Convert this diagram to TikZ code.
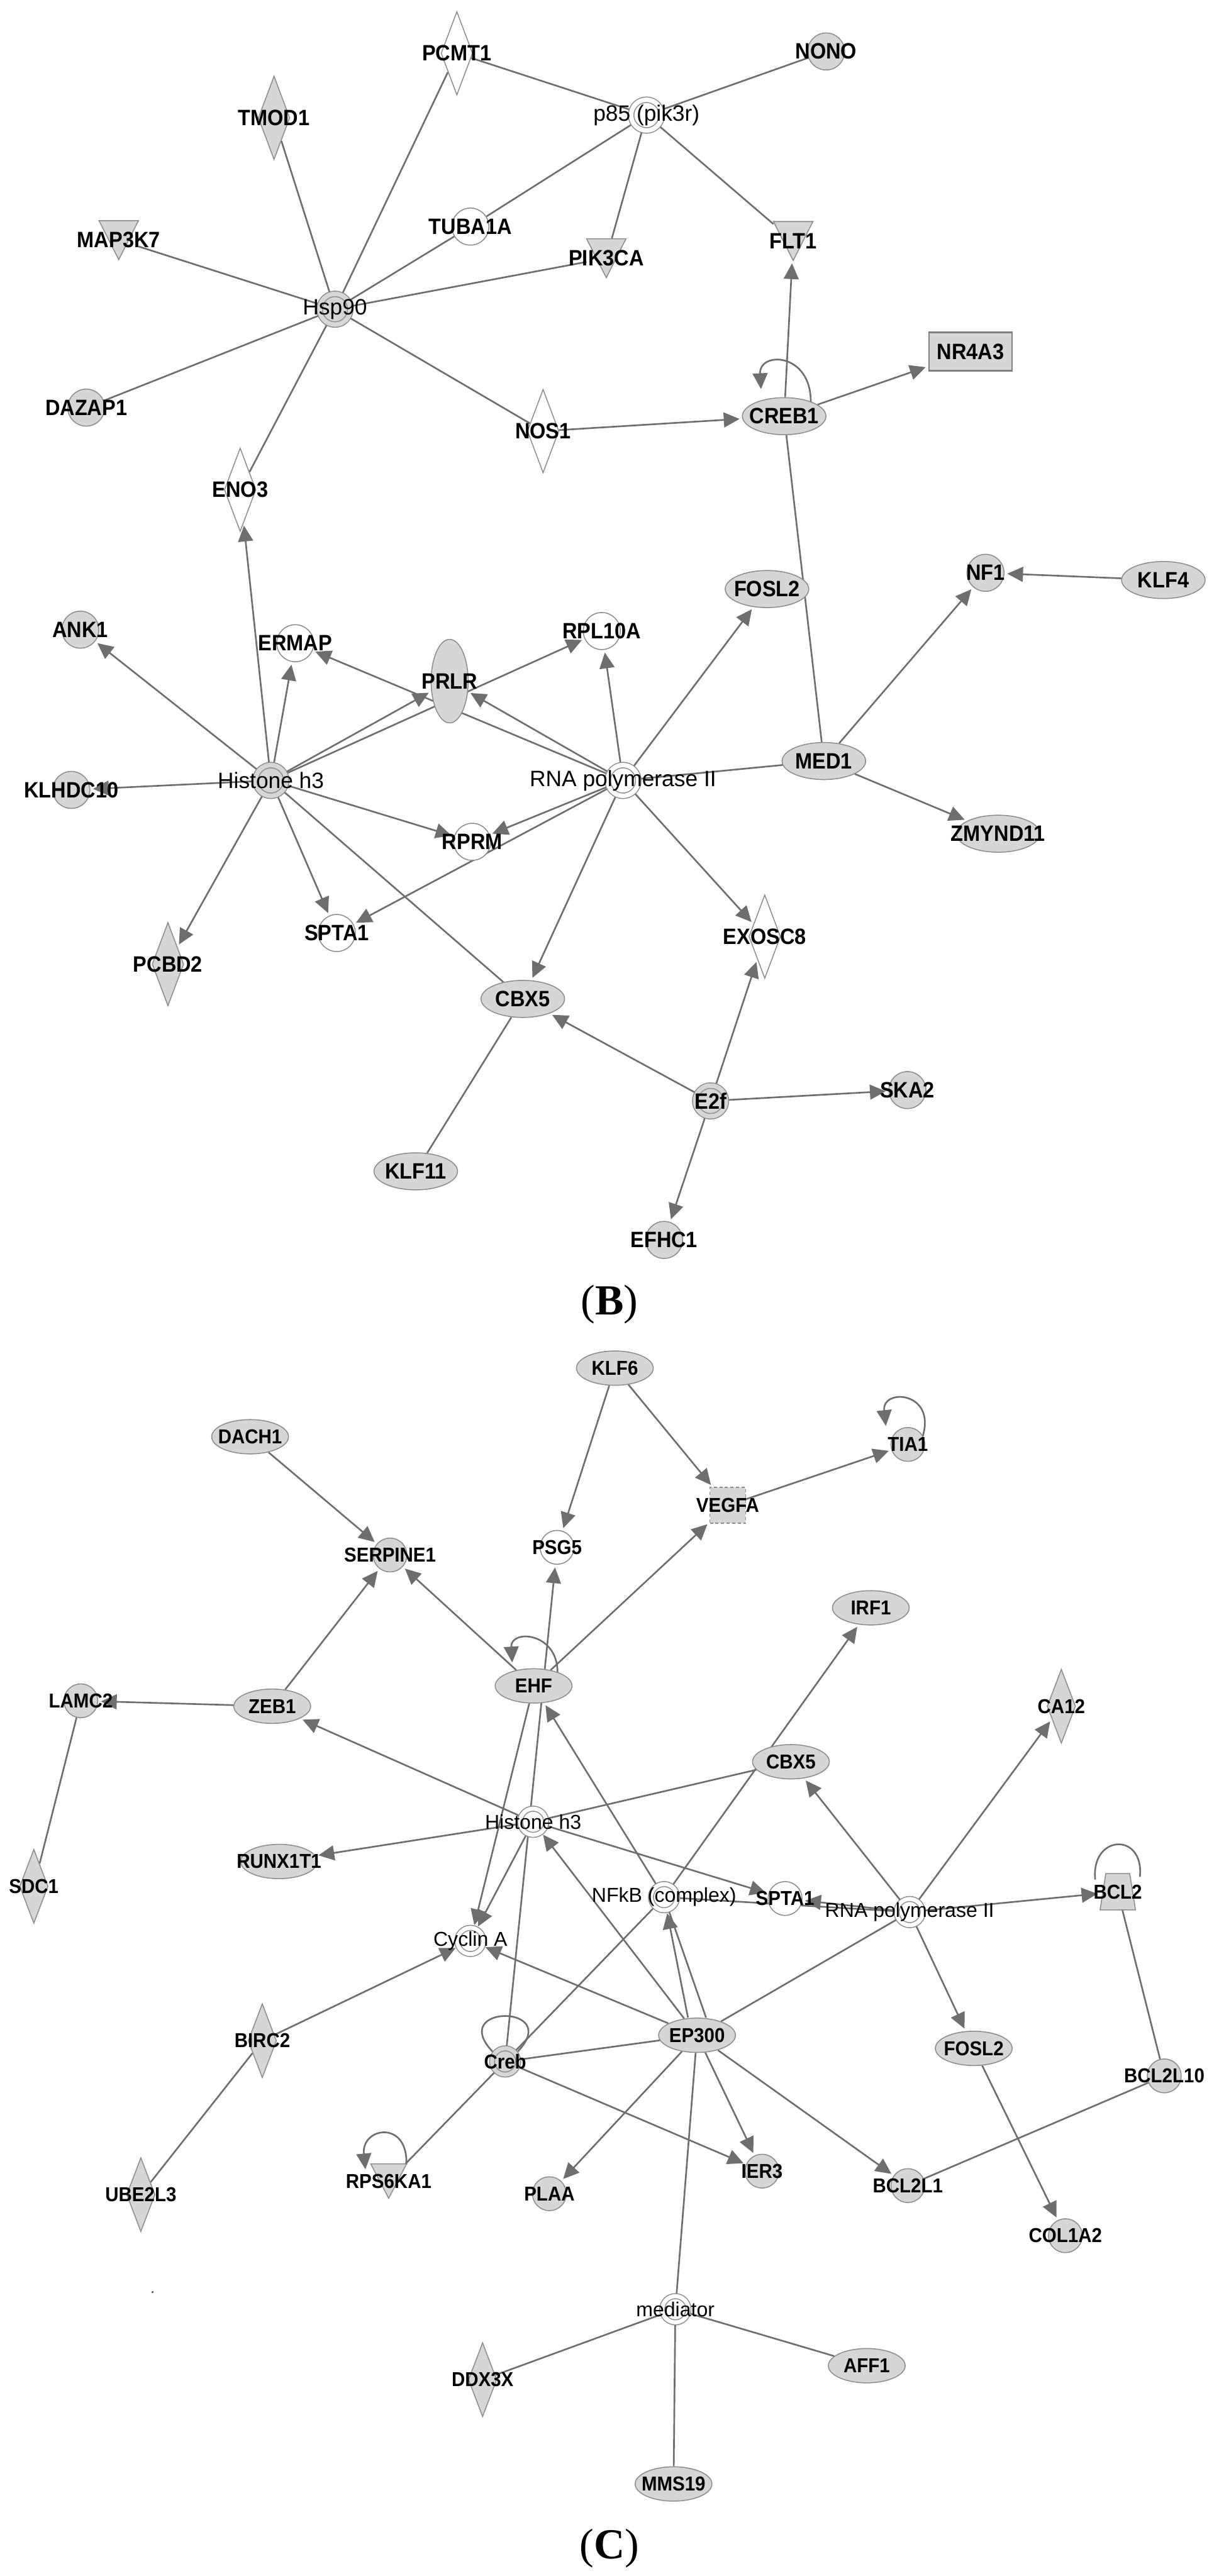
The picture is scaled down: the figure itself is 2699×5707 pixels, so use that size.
\documentclass[tikz,border=0pt]{standalone}
\usepackage{fontspec}
\newfontfamily\genefont[FakeStretch=0.92]{Liberation Sans}
\newfontfamily\cplxfont{Liberation Sans}
\newfontfamily\panelfont{Liberation Serif}
\usepackage{tikz}
\usetikzlibrary{shapes.geometric,arrows.meta,backgrounds}
\pgfdeclarelayer{shapes}
\pgfsetlayers{background,shapes,main}
\definecolor{edgegray}{HTML}{6E6E6E}
\definecolor{nodefill}{HTML}{D6D6D6}
\definecolor{nodeline}{HTML}{8C8C8C}

\begin{document}
\begin{tikzpicture}[
        x=0.01cm, y=-0.01cm,
        lab/.style={font=\genefont\bfseries\fontsize{\gfs}{\gfs}\selectfont, inner sep=0pt},
        clab/.style={font=\cplxfont\fontsize{\gfs}{\gfs}\selectfont, inner sep=0pt},
        shp/.style={draw=nodeline, line width=0.6pt, fill=nodefill, inner sep=0pt},
        gcirc/.style={shp, circle, minimum size=\cirsz, label={[lab]center:#1}},
        wcirc/.style={gcirc=#1, fill=white},
        gell/.style={shp, ellipse, minimum width=\ellw, minimum height=\ellh, label={[lab]center:#1}},
        gdiam/.style={shp, diamond, minimum width=\diaw, minimum height=\diah, label={[lab]center:#1}},
        wdiam/.style={gdiam=#1, fill=white},
        tribox/.style={rectangle, inner sep=0pt, minimum width=\triw, minimum height=\trih, label={[lab]center:#1}},
        trishape/.style={draw=nodeline, line width=0.6pt, fill=nodefill},
        cplxshape/.style={circle, draw=nodeline, line width=0.6pt, double=white, double distance=\cpxgap, fill=white, inner sep=0pt, minimum size=\cpxsz},
        cplx/.style={cplxshape, label={[clab]center:#1}},
        gcplx/.style={cplxshape, double=nodefill, fill=nodefill, label={[clab]center:#1}},
        gcplxb/.style={cplxshape, double=nodefill, fill=nodefill, label={[lab]center:#1}},
        arr/.style={draw=edgegray, line width=1.05pt, -{Triangle[length=0.35cm, width=0.33cm]}, shorten >=0.06cm},
        ln/.style={draw=edgegray, line width=1.05pt},
        panel/.style={font=\panelfont\fontsize{27pt}{27pt}\selectfont, inner sep=0pt}
    ]
        \useasboundingbox (0,0) rectangle (2699,5707);

        % --- Panel B ---
        \def\gfs{14pt}\def\cirsz{0.82cm}\def\ellw{1.85cm}\def\ellh{0.82cm}
        \def\diaw{0.70cm}\def\diah{1.85cm}\def\triw{0.86cm}\def\trih{0.85cm}
        \def\cpxsz{0.68cm}\def\cpxgap{0.10cm}

        \node (hsp90) [gcplx=Hsp90] at (742,685) {};
        \node (p85) [cplx=p85 (pik3r)] at (1432,255) {};
        \node (pcmt1) [wdiam=PCMT1] at (1012,118) {};
        \node (nono) [gcirc=NONO] at (1830,114) {};
        \node (tmod1) [gdiam=TMOD1] at (607,261) {};
        \node (map3k7) [tribox=MAP3K7] at (263,532) {};
        \node (tuba1a) [wcirc=TUBA1A] at (1042,502) {};
        \node (pik3ca) [tribox=PIK3CA] at (1343,572) {};
        \node (flt1) [tribox=FLT1] at (1757,534) {};
        \node (dazap1) [gcirc=DAZAP1] at (191,903) {};
        \node (nos1) [wdiam=NOS1] at (1203,955) {};
        \node (creb1) [gell=CREB1] at (1737,922) {};
        \node (nr4a3) [shp, rectangle, draw=gray, line width=1pt, minimum width=1.84cm, minimum height=0.85cm, label={[lab]center:NR4A3}] at (2150,779) {};
        \node (eno3) [wdiam=ENO3] at (532,1085) {};
        \node (ank1) [gcirc=ANK1] at (178,1395) {};
        \node (ermap) [wcirc=ERMAP] at (654,1425) {};
        \node (prlr) [gell=PRLR, minimum width=0.82cm, minimum height=1.85cm] at (996,1509) {};
        \node (rpl10a) [wcirc=RPL10A] at (1333,1398) {};
        \node (fosl2b) [gell=FOSL2] at (1699,1305) {};
        \node (nf1) [gcirc=NF1] at (2183,1269) {};
        \node (klf4) [gell=KLF4] at (2577,1285) {};
        \node (histb) [gcplx=Histone h3] at (600,1729) {};
        \node (klhdc10) [gcirc=KLHDC10] at (158,1750) {};
        \node (rnapb) [cplx=RNA polymerase II] at (1380,1729) {};
        \node (med1) [gell=MED1] at (1825,1686) {};
        \node (rprm) [wcirc=RPRM] at (1046,1865) {};
        \node (zmynd11) [gell=ZMYND11] at (2211,1847) {};
        \node (spta1b) [wcirc=SPTA1] at (746,2067) {};
        \node (pcbd2) [gdiam=PCBD2] at (372,2136) {};
        \node (exosc8) [wdiam=EXOSC8] at (1694,2075) {};
        \node (cbx5b) [gell=CBX5] at (1158,2213) {};
        \node (e2f) [gcplxb=E2f] at (1574,2439) {};
        \node (ska2) [gcirc=SKA2] at (2010,2415) {};
        \node (klf11) [gell=KLF11] at (921,2595) {};
        \node (efhc1) [gcirc=EFHC1] at (1471,2747) {};
        \node (panelb) [panel] at (1350,2890) {(\textbf{B})};

        % --- Panel C ---
        \def\gfs{12.7pt}\def\cirsz{0.75cm}\def\ellw{1.70cm}\def\ellh{0.76cm}
        \def\diaw{0.63cm}\def\diah{1.64cm}\def\triw{0.78cm}\def\trih{0.75cm}
        \def\cpxsz{0.58cm}\def\cpxgap{0.09cm}

        \node (klf6) [gell=KLF6] at (1362,3031) {};
        \node (dach1) [gell=DACH1] at (554,3183) {};
        \node (tia1) [gcirc=TIA1] at (2011,3200) {};
        \node (vegfa) [shp, rectangle, dash pattern=on 2pt off 1.5pt, minimum size=0.79cm, label={[lab]center:VEGFA}] at (1612,3335) {};
        \node (psg5) [wcirc=PSG5] at (1234,3428) {};
        \node (serpine1) [gcirc=SERPINE1] at (864,3445) {};
        \node (irf1) [gell=IRF1] at (1929,3562) {};
        \node (ehf) [gell=EHF] at (1182,3735) {};
        \node (lamc2) [gcirc=LAMC2] at (179,3768) {};
        \node (zeb1) [gell=ZEB1] at (603,3780) {};
        \node (ca12) [gdiam=CA12] at (2351,3780) {};
        \node (cbx5c) [gell=CBX5] at (1752,3903) {};
        \node (histc) [cplx=Histone h3] at (1181,4036) {};
        \node (runx1t1) [gell=RUNX1T1] at (618,4124) {};
        \node (sdc1) [gdiam=SDC1] at (75,4179) {};
        \node (nfkb) [cplx=NFkB (complex)] at (1471,4203) {};
        \node (spta1c) [wcirc=SPTA1] at (1739,4206) {};
        \node (rnapc) [cplx=RNA polymerase II] at (2015,4236) {};
        \node (bcl2) [tribox=BCL2, minimum width=0.77cm, minimum height=0.79cm] at (2476,4191) {};
        \node (cyca) [cplx=Cyclin A] at (1042,4300) {};
        \node (ep300) [gell=EP300] at (1544,4509) {};
        \node (birc2) [gdiam=BIRC2] at (581,4521) {};
        \node (fosl2c) [gell=FOSL2] at (2157,4538) {};
        \node (creb) [gcplxb=Creb] at (1119,4567) {};
        \node (bcl2l10) [gcirc=BCL2L10] at (2579,4599) {};
        \node (ier3) [gcirc=IER3] at (1688,4810) {};
        \node (rps6ka1) [tribox=RPS6KA1] at (861,4832) {};
        \node (bcl2l1) [gcirc=BCL2L1] at (2011,4842) {};
        \node (plaa) [gcirc=PLAA] at (1217,4860) {};
        \node (ube2l3) [gdiam=UBE2L3] at (312,4862) {};
        \node (col1a2) [gcirc=COL1A2] at (2360,4953) {};
        \node (mediator) [cplx=mediator] at (1496,5116) {};
        \node (aff1) [gell=AFF1] at (1920,5241) {};
        \node (ddx3x) [gdiam=DDX3X] at (1069,5272) {};
        \node (mms19) [gell=MMS19] at (1492,5503) {};
        \node (panelc) [panel] at (1350,5646) {(\textbf{C})};
        \fill[black!70] (338,5078) circle[radius=0.025cm];

        % --- Triangle and trapezium outlines ---
        \begin{pgfonlayer}{shapes}
            \foreach \tnode in {map3k7,pik3ca,flt1,rps6ka1}
                \filldraw[trishape] (\tnode.north west) -- (\tnode.north east) -- (\tnode.south) -- cycle;
            \filldraw[trishape] ([xshift=-0.265cm]bcl2.north) -- ([xshift=0.265cm]bcl2.north) -- (bcl2.south east) -- (bcl2.south west) -- cycle;
        \end{pgfonlayer}

        % --- Connections B ---
        \begin{scope}[on background layer]
            \foreach \tnode in {pcmt1,tmod1,map3k7,tuba1a,pik3ca,dazap1,nos1,eno3}
                \draw[ln] (hsp90) -- (\tnode);
            \foreach \tnode in {pcmt1,nono,tuba1a,pik3ca,flt1}
                \draw[ln] (p85) -- (\tnode);
            \draw[arr] (creb1) -- (flt1);
            \draw[arr] (creb1) -- (nr4a3);
            \draw[arr] (nos1) -- (creb1);
            \draw[arr] ([shift={(59,-32)}]creb1.center) .. controls +(0,-110) and +(-5,-90) .. ([shift={(-51,-54)}]creb1.center);
            \draw[ln] (creb1) -- (med1);
            \draw[arr] (med1) -- (nf1);
            \draw[arr] (klf4) -- (nf1);
            \draw[arr] (med1) -- (zmynd11);
            \draw[ln] (rnapb) -- (med1);
            \foreach \tnode in {fosl2b,rpl10a,prlr,ermap,rprm,spta1b,cbx5b,exosc8}
                \draw[arr] (rnapb) -- (\tnode);
            \foreach \tnode in {eno3,ank1,ermap,prlr,rpl10a,klhdc10,rprm,pcbd2,spta1b}
                \draw[arr] (histb) -- (\tnode);
            \draw[ln] (histb) -- (cbx5b);
            \foreach \tnode in {cbx5b,exosc8,ska2,efhc1}
                \draw[arr] (e2f) -- (\tnode);
            \draw[ln] (cbx5b) -- (klf11);
        \end{scope}

        % --- Connections C ---
        \begin{scope}[on background layer]
            \draw[arr] (klf6) -- (psg5);
            \draw[arr] (klf6) -- (vegfa);
            \draw[arr] (vegfa) -- (tia1);
            \draw[arr] ([shift={(33,-18)}]tia1.center) .. controls +(30,-100) and +(-10,-90) .. ([shift={(-48,-35)}]tia1.center);
            \draw[arr] (dach1) -- (serpine1);
            \draw[arr] (zeb1) -- (serpine1);
            \draw[arr] (ehf) -- (serpine1);
            \draw[arr] (ehf) -- (vegfa);
            \draw[arr] ([shift={(53,-30)}]ehf.center) .. controls +(0,-90) and +(-5,-80) .. ([shift={(-47,-46)}]ehf.center);
            \draw[arr] (zeb1) -- (lamc2);
            \draw[ln] (lamc2) -- (sdc1);
            \draw[arr] (creb) -- (psg5);
            \draw[arr] (ehf) -- (cyca);
            \draw[arr] (nfkb) -- (ehf);
            \draw[arr] (nfkb) -- (irf1);
            \foreach \tnode in {zeb1,runx1t1,cyca,spta1c}
                \draw[arr] (histc) -- (\tnode);
            \draw[ln] (histc) -- (cbx5c);
            \draw[arr] (ep300) -- (histc);
            \draw[ln] (nfkb) -- (rnapc);
            \foreach \tnode in {spta1c,cbx5c,ca12,bcl2,fosl2c}
                \draw[arr] (rnapc) -- (\tnode);
            \draw[arr] ([xshift=-0.2cm]ep300.north) -- (nfkb);
            \draw[ln] ([xshift=0.2cm]ep300.north) -- (nfkb);
            \foreach \tnode in {rnapc,creb,mediator}
                \draw[ln] (ep300) -- (\tnode);
            \foreach \tnode in {cyca,ier3,plaa,bcl2l1}
                \draw[arr] (ep300) -- (\tnode);
            \draw[arr] (creb) -- (ier3);
            \draw[ln] (creb) -- (nfkb);
            \draw[ln] (creb) -- (rps6ka1);
            \draw[ln] ([shift={(-28,-22)}]creb.center) .. controls +(-100,-105) and +(100,-105) .. ([shift={(28,-22)}]creb.center);
            \draw[arr] ([shift={(39,-36)}]rps6ka1.center) .. controls +(5,-100) and +(-10,-100) .. ([shift={(-51,-20)}]rps6ka1.center);
            \draw[ln] (birc2) -- (ube2l3);
            \draw[arr] (birc2) -- (cyca);
            \draw[ln] (bcl2) -- (bcl2l10);
            \draw[ln] (bcl2l10) -- (bcl2l1);
            \draw[ln] ([shift={(-50,-27)}]bcl2.center) .. controls +(-10,-100) and +(10,-100) .. ([shift={(49,-33)}]bcl2.center);
            \draw[arr] (fosl2c) -- (col1a2);
            \foreach \tnode in {ddx3x,aff1,mms19}
                \draw[ln] (mediator) -- (\tnode);
        \end{scope}

    \end{tikzpicture}
\end{document}
